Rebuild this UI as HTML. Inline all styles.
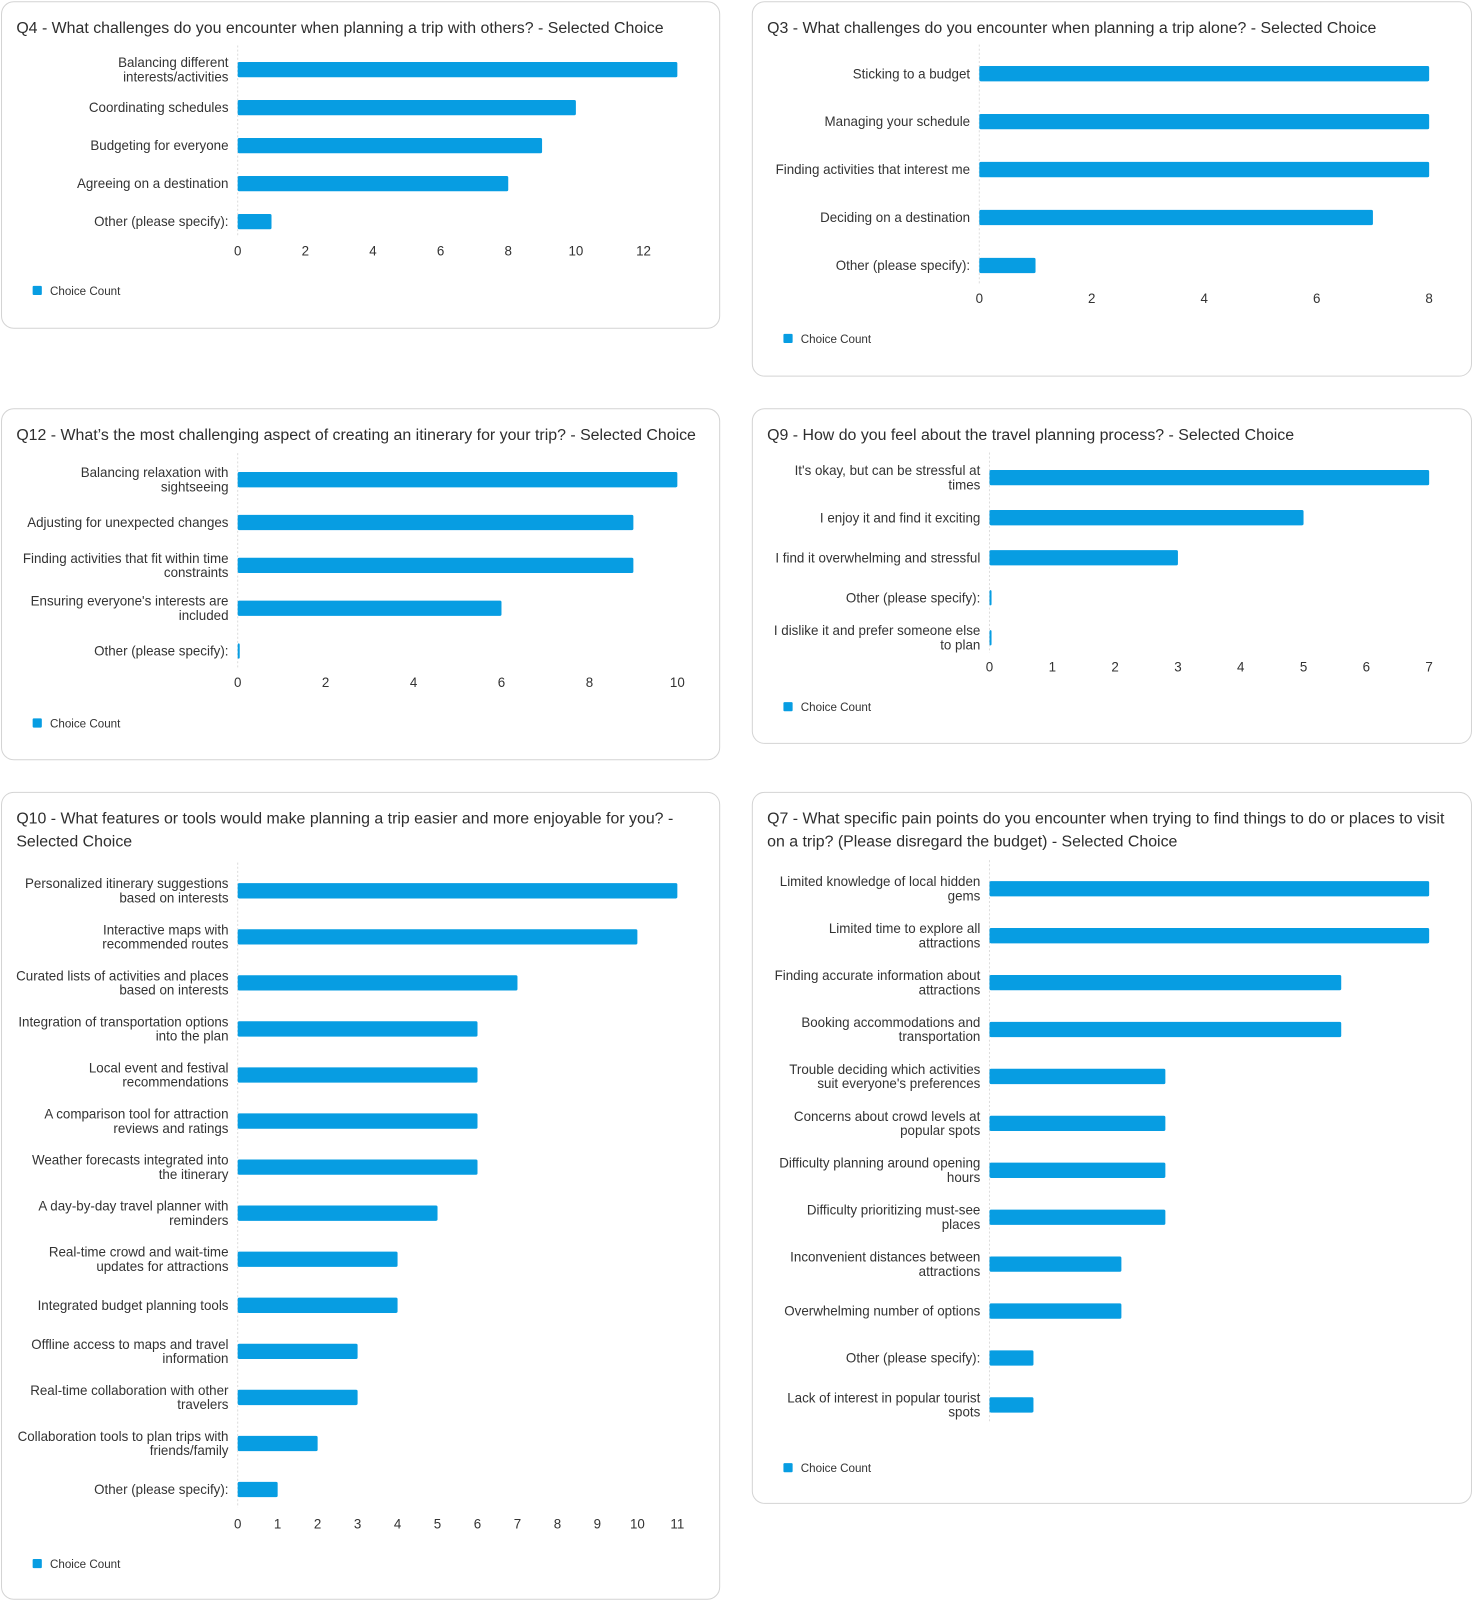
<!DOCTYPE html>
<html><head><meta charset="utf-8">
<style>
html,body{margin:0;padding:0;background:#fff;}
svg{display:block;font-family:"Liberation Sans",Arial,sans-serif;}
</style></head>
<body>
<svg id="root" width="1472" height="1600" viewBox="0 0 1443 1568" xmlns="http://www.w3.org/2000/svg"></svg>
<script>
const q4Cats=[["Balancing different","interests/activities"],["Coordinating schedules"],["Budgeting for everyone"],["Agreeing on a destination"],["Other (please specify):"]];
const q4Vals=[13,10,9,8,1];
const q4Ticks=[0,2,4,6,8,10,12];
const q3Cats=[["Sticking to a budget"],["Managing your schedule"],["Finding activities that interest me"],["Deciding on a destination"],["Other (please specify):"]];
const q3Vals=[8,8,8,7,1];
const q3Ticks=[0,2,4,6,8];
const q12Cats=[["Balancing relaxation with","sightseeing"],["Adjusting for unexpected changes"],["Finding activities that fit within time","constraints"],["Ensuring everyone's interests are","included"],["Other (please specify):"]];
const q12Vals=[10,9,9,6,0];
const q12Ticks=[0,2,4,6,8,10];
const q9Cats=[["It's okay, but can be stressful at","times"],["I enjoy it and find it exciting"],["I find it overwhelming and stressful"],["Other (please specify):"],["I dislike it and prefer someone else","to plan"]];
const q9Vals=[7,5,3,0,0];
const q9Ticks=[0,1,2,3,4,5,6,7];
const q10Cats=[["Personalized itinerary suggestions","based on interests"],["Interactive maps with","recommended routes"],["Curated lists of activities and places","based on interests"],["Integration of transportation options","into the plan"],["Local event and festival","recommendations"],["A comparison tool for attraction","reviews and ratings"],["Weather forecasts integrated into","the itinerary"],["A day-by-day travel planner with","reminders"],["Real-time crowd and wait-time","updates for attractions"],["Integrated budget planning tools"],["Offline access to maps and travel","information"],["Real-time collaboration with other","travelers"],["Collaboration tools to plan trips with","friends/family"],["Other (please specify):"]];
const q10Vals=[11,10,7,6,6,6,6,5,4,4,3,3,2,1];
const q10Ticks=[0,1,2,3,4,5,6,7,8,9,10,11];
const q7Cats=[["Limited knowledge of local hidden","gems"],["Limited time to explore all","attractions"],["Finding accurate information about","attractions"],["Booking accommodations and","transportation"],["Trouble deciding which activities","suit everyone's preferences"],["Concerns about crowd levels at","popular spots"],["Difficulty planning around opening","hours"],["Difficulty prioritizing must-see","places"],["Inconvenient distances between","attractions"],["Overwhelming number of options"],["Other (please specify):"],["Lack of interest in popular tourist","spots"]];
const q7Vals=[10,10,8,8,4,4,4,4,3,3,1,1];
const q7Ticks=[];

const NS="http://www.w3.org/2000/svg";
const root=document.getElementById('root');
function mk(tag,attrs,parent){const e=document.createElementNS(NS,tag);for(const k in attrs)e.setAttribute(k,attrs[k]);parent.appendChild(e);return e;}

const panels=[
 {id:"q4",title:["Q4 - What challenges do you encounter when planning a trip with others? - Selected Choice"],box:[1,1,704,320],x0:233,xmax:13,pxmax:664,cats:q4Cats,vals:q4Vals,ticks:q4Ticks,y0:68,step:37.25,tickY:245,legY:285},
 {id:"q3",title:["Q3 - What challenges do you encounter when planning a trip alone? - Selected Choice"],box:[737,1,705,367],x0:960,xmax:8,pxmax:1401,cats:q3Cats,vals:q3Vals,ticks:q3Ticks,y0:72,step:47,tickY:292,legY:332},
 {id:"q12",title:["Q12 - What’s the most challenging aspect of creating an itinerary for your trip? - Selected Choice"],box:[1,400,704,344],x0:233,xmax:10,pxmax:664,cats:q12Cats,vals:q12Vals,ticks:q12Ticks,y0:470,step:42,tickY:668,legY:709},
 {id:"q9",title:["Q9 - How do you feel about the travel planning process? - Selected Choice"],box:[737,400,705,328],x0:970,xmax:7,pxmax:1401,cats:q9Cats,vals:q9Vals,ticks:q9Ticks,y0:468,step:39.25,tickY:653,legY:693},
 {id:"q10",title:["Q10 - What features or tools would make planning a trip easier and more enjoyable for you? -","Selected Choice"],box:[1,776,704,791],x0:233,xmax:11,pxmax:664,cats:q10Cats,vals:q10Vals,ticks:q10Ticks,y0:873,step:45.15,tickY:1493,legY:1533},
 {id:"q7",title:["Q7 - What specific pain points do you encounter when trying to find things to do or places to visit","on a trip? (Please disregard the budget) - Selected Choice"],box:[737,776,705,697],x0:970,xmax:10,pxmax:1401,cats:q7Cats,vals:q7Vals,ticks:q7Ticks,y0:871,step:46,tickY:1420,legY:1439}
];

panels.forEach(p=>{
 const g=mk('g',{},root);
 
 
 const r=mk('rect',{x:p.box[0]+0.5,y:p.box[1]+0.5,width:p.box[2],height:p.box[3],rx:12,fill:'#fff',stroke:'#d4d4d4','stroke-width':1},g);
 
 
 p.title.forEach((t,i)=>{
  const tt=mk('text',{x:p.box[0]+15,y:p.box[1]+31+i*22.5,'font-size':15.6,fill:'#2e2e2e'},g);
  tt.textContent=t;
  
  
 });
 const xs=v=>p.x0+(p.pxmax-p.x0)*v/p.xmax;
 const n=p.cats.length;
 const top=p.y0-p.step/2, bot=p.y0+(n-1)*p.step+p.step/2;
 const gl=mk('line',{x1:p.x0,x2:p.x0,y1:top-5,y2:bot-5,stroke:'#ddd','stroke-dasharray':'2,2'},g);
 
 
 p.cats.forEach((c,i)=>{
  const cy=p.y0+i*p.step;
  const lbl=mk('text',{x:p.x0-9,'text-anchor':'end','font-size':13.1,fill:'#333'},g);
  
  
  c.forEach((line,j)=>{
   const ts=mk('tspan',{x:p.x0-9,y:cy+4.5+(j-(c.length-1)/2)*14},lbl);
   ts.textContent=line;
  });
  const w=Math.max(xs(p.vals[i])-p.x0,2);
  const b=mk('rect',{x:p.x0,y:cy-7.5,width:w,height:15,rx:1.5,fill:'#079de2'},g);
  
  
 });
 p.ticks.forEach(t=>{
  const tl=mk('text',{x:xs(t),y:p.tickY+5,'text-anchor':'middle','font-size':13.1,fill:'#333'},g);
  tl.textContent=t;
  
  
 });
 const lg=mk('g',{},g);
 
 
 mk('rect',{x:p.box[0]+31,y:p.legY-5,width:9,height:9,rx:1,fill:'#079de2'},lg);
 const lt=mk('text',{x:p.box[0]+48,y:p.legY+4,'font-size':11.4,fill:'#333'},lg);
 lt.textContent='Choice Count';
});
</script>
</body></html>
